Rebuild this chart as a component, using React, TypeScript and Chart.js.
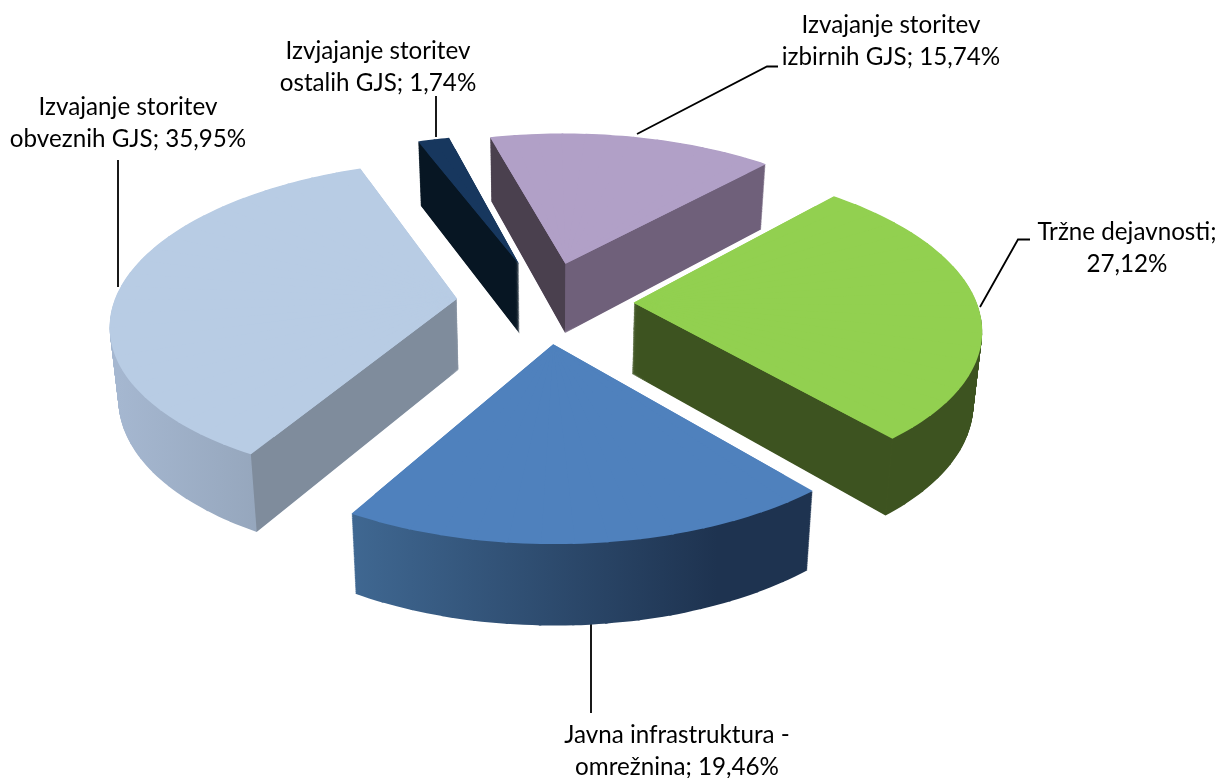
import React, { useEffect, useRef } from "react";
import { Chart, registerables } from "chart.js";

Chart.register(...registerables);

const categories = [
  "Tržne dejavnosti",
  "Javna infrastruktura - omrežnina",
  "Izvajanje storitev obveznih GJS",
  "Izvjajanje storitev ostalih GJS",
  "Izvajanje storitev izbirnih GJS",
];
const shares = [27.12, 19.46, 35.95, 1.74, 15.74];
const topColors = ["#92d050", "#4f81bd", "#b8cce4", "#17375e", "#b1a0c7"];
const rimFrom = ["#3d5320", "#3f6791", "#a5b7d0", "#071623", "#6f607a"];
const rimTo = ["#3d5320", "#1e3350", "#8a9aae", "#071623", "#6f607a"];
const rimStop = [1, 0.8, 1, 1, 1];
const cutStartColors = [null, null, "#7f8c9c", "#071623", "#4a404e"];
const cutEndColors = ["#3d5320", null, null, null, "#6f607a"];
const paintOrder = [3, 4, 2, 0, 1];

const labelLines = [
  ["Tržne dejavnosti;", "27,12%"],
  ["Javna infrastruktura -", "omrežnina; 19,46%"],
  ["Izvajanje storitev", "obveznih GJS; 35,95%"],
  ["Izvjajanje storitev", "ostalih GJS; 1,74%"],
  ["Izvajanje storitev", "izbirnih GJS; 15,74%"],
];
const labelCentres = [1127, 677, 128, 378, 891];
const labelBaselines = [240, 743, 115, 59, 33];
const LINE_HEIGHT = 32;
const leaderLines = [
  [[980, 307], [1018, 239.5], [1030, 239.5]],
  [[591, 624], [591, 713]],
  [[118, 287], [118, 160]],
  [[436, 137], [436, 96]],
  [[637, 134], [767, 66.5], [778, 66.5]],
];

// Camera model of the tilted disc
const CAM = { cx: 545, cy: 302, a: 343, b: 158.5, p: 0.141, shrink: 0.02, depth: 71, explode: 0.258 };

function project(u: number, v: number, t: number) {
  const w = 1 - CAM.p * v;
  const s = 1 - t * CAM.shrink;
  return {
    x: CAM.cx + ((CAM.a * u) / w) * s,
    y: CAM.cy + ((CAM.b * v) / w) * s + (t * CAM.depth) / w,
  };
}

function drawWedges(
  ctx: CanvasRenderingContext2D,
  arc: any,
  t: number,
  start: number,
  end: number,
  n: number,
  radiusFactor: number
) {
  const mid = (arc.startAngle + arc.endAngle) / 2;
  const ou = CAM.explode * Math.cos(mid);
  const ov = CAM.explode * Math.sin(mid);
  const O = project(ou, ov, t);
  const R = arc.outerRadius;
  const overlap = 0.006;
  for (let k = 0; k < n; k++) {
    const a1 = start + ((end - start) * k) / n;
    const a2 = k === n - 1 ? end : start + ((end - start) * (k + 1)) / n + overlap;
    const P1 = project(ou + radiusFactor * Math.cos(a1), ov + radiusFactor * Math.sin(a1), t);
    const P2 = project(ou + radiusFactor * Math.cos(a2), ov + radiusFactor * Math.sin(a2), t);
    const dx1 = R * Math.cos(a1), dy1 = R * Math.sin(a1);
    const dx2 = R * Math.cos(a2), dy2 = R * Math.sin(a2);
    const det = dx1 * dy2 - dx2 * dy1;
    const i1x = P1.x - O.x, i1y = P1.y - O.y;
    const i2x = P2.x - O.x, i2y = P2.y - O.y;
    const ma = (i1x * dy2 - i2x * dy1) / det;
    const mc = (-i1x * dx2 + i2x * dx1) / det;
    const mb = (i1y * dy2 - i2y * dy1) / det;
    const md = (-i1y * dx2 + i2y * dx1) / det;
    const me = O.x - (ma * arc.x + mc * arc.y);
    const mf = O.y - (mb * arc.x + md * arc.y);
    arc.startAngle = a1;
    arc.endAngle = a2;
    arc.circumference = a2 - a1;
    ctx.setTransform(ma, mb, mc, md, me, mf);
    arc.draw(ctx);
    arc.startAngle = start;
    arc.endAngle = end;
    arc.circumference = end - start;
  }
  ctx.setTransform(1, 0, 0, 1, 0, 0);
}

function drawFace(ctx: CanvasRenderingContext2D, arc: any, color: string, t: number, underlay: boolean) {
  const start = arc.startAngle;
  const end = arc.endAngle;
  const savedOptions = arc.options;
  const n = Math.max(2, Math.ceil((end - start) / (Math.PI / 36)));
  arc.options = {
    backgroundColor: color,
    borderColor: color,
    borderWidth: 0,
    borderAlign: "center",
    offset: 0,
    spacing: 0,
    circular: true,
  };
  if (underlay) drawWedges(ctx, arc, t, start, end, 1, 0.9);
  drawWedges(ctx, arc, t, start, end, n, 1);
  arc.options = savedOptions;
}

function cutQuad(ctx: CanvasRenderingContext2D, arc: any, angle: number, color: string) {
  const mid = (arc.startAngle + arc.endAngle) / 2;
  const ou = CAM.explode * Math.cos(mid);
  const ov = CAM.explode * Math.sin(mid);
  const eu = ou + Math.cos(angle);
  const ev = ov + Math.sin(angle);
  const pts = [project(ou, ov, 0), project(eu, ev, 0), project(eu, ev, 1), project(ou, ov, 1)];
  ctx.fillStyle = color;
  ctx.beginPath();
  pts.forEach((p, i) => (i ? ctx.lineTo(p.x, p.y) : ctx.moveTo(p.x, p.y)));
  ctx.closePath();
  ctx.fill();
}

function rimExtent(arc: any) {
  const mid = (arc.startAngle + arc.endAngle) / 2;
  const ou = CAM.explode * Math.cos(mid);
  const ov = CAM.explode * Math.sin(mid);
  let lo = Infinity;
  let hi = -Infinity;
  for (let k = 0; k <= 40; k++) {
    const a = arc.startAngle + ((arc.endAngle - arc.startAngle) * k) / 40;
    const x = project(ou + Math.cos(a), ov + Math.sin(a), 1).x;
    lo = Math.min(lo, x);
    hi = Math.max(hi, x);
  }
  return [lo, hi];
}

const solidPiePlugin = {
  id: "solidPie",
  beforeDatasetsDraw(chart: any) {
    const main: CanvasRenderingContext2D = chart.ctx;
    const arcs = chart.getDatasetMeta(0).data;

    // leader lines sit behind the slices
    main.save();
    main.strokeStyle = "#000";
    main.lineWidth = 1.8;
    leaderLines.forEach((line) => {
      main.beginPath();
      line.forEach(([x, y], i) => (i ? main.lineTo(x, y) : main.moveTo(x, y)));
      main.stroke();
    });
    main.restore();

    paintOrder.forEach((i) => {
      const arc = arcs[i];
      const off = document.createElement("canvas");
      off.width = chart.width;
      off.height = chart.height;
      const ctx = off.getContext("2d") as CanvasRenderingContext2D;

      for (let layer = 90; layer >= 1; layer--) {
        drawFace(ctx, arc, rimTo[i], layer / 90, false);
      }

      const [lo, hi] = rimExtent(arc);
      const grad = ctx.createLinearGradient(lo, 0, hi, 0);
      grad.addColorStop(0, rimFrom[i]);
      grad.addColorStop(rimStop[i], rimTo[i]);
      grad.addColorStop(1, rimTo[i]);
      ctx.globalCompositeOperation = "source-atop";
      ctx.fillStyle = grad;
      ctx.fillRect(0, 0, off.width, off.height);
      const cs = cutStartColors[i];
      const ce = cutEndColors[i];
      if (cs) cutQuad(ctx, arc, arc.startAngle, cs);
      if (ce) cutQuad(ctx, arc, arc.endAngle, ce);
      ctx.globalCompositeOperation = "source-over";
      main.drawImage(off, 0, 0);

      drawFace(main, arc, topColors[i], 0, true);
    });
    return false;
  },
  afterDraw(chart: any) {
    const ctx: CanvasRenderingContext2D = chart.ctx;
    ctx.save();
    ctx.fillStyle = "#000";
    ctx.font = '24.2px Lato, "Open Sans", sans-serif';
    ctx.textAlign = "center";
    ctx.textBaseline = "alphabetic";
    labelLines.forEach((lines, i) => {
      lines.forEach((text, j) => {
        ctx.fillText(text, labelCentres[i], labelBaselines[i] + j * LINE_HEIGHT);
      });
    });
    ctx.restore();
  },
};

export default function App() {
  const ref = useRef<HTMLCanvasElement>(null);
  useEffect(() => {
    document.body.style.margin = "0";
    const chart = new Chart(ref.current as HTMLCanvasElement, {
      type: "pie",
      data: {
        labels: categories,
        datasets: [{ data: shares, backgroundColor: topColors, borderWidth: 0 }],
      },
      options: {
        animation: false,
        responsive: false,
        rotation: 42.2,
        plugins: { legend: { display: false }, tooltip: { enabled: false } },
      },
      plugins: [solidPiePlugin],
    } as any);
    return () => chart.destroy();
  }, []);
  return <canvas ref={ref} width={1225} height={778} style={{ display: "block" }} />;
}
